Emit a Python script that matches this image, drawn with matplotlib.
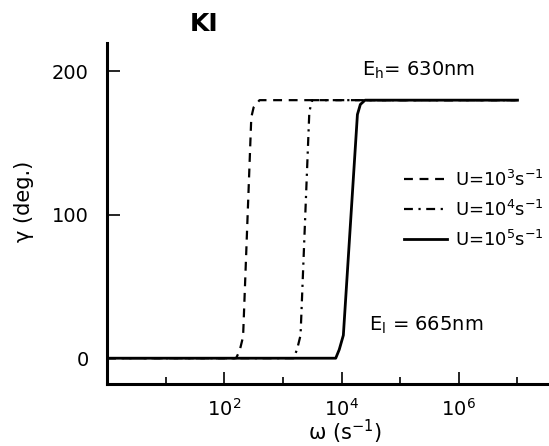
import matplotlib
matplotlib.use("Agg")
import matplotlib.pyplot as plt
from matplotlib.ticker import FixedLocator, NullFormatter

# phase angle (deg) vs angular frequency for three switching rates U
omega_u3 = [1e0, 10**2.20, 10**2.26, 10**2.32, 10**2.46, 10**2.50, 10**2.60, 1e7]
gamma_u3 = [0, 0, 5, 15, 168, 175, 180, 180]

omega_u4 = [1e0, 10**3.18, 10**3.24, 10**3.30, 10**3.45, 10**3.50, 1e7]
gamma_u4 = [0, 0, 6, 16, 172, 180, 180]

omega_u5 = [1e0, 10**3.90, 10**3.96, 10**4.03, 10**4.27, 10**4.32, 10**4.40, 1e7]
gamma_u5 = [0, 0, 6, 16, 170, 177, 180, 180]

labels = [r"U=10$^3$s$^{-1}$", r"U=10$^4$s$^{-1}$", r"U=10$^5$s$^{-1}$"]
major_ticks = [1e2, 1e4, 1e6]
minor_ticks = [1e1, 1e3, 1e5, 1e7]
y_ticks = [0, 100, 200]

plt.rcParams["font.family"] = ["DejaVu Sans"]
plt.rcParams["mathtext.default"] = "regular"

fig = plt.figure(figsize=(5.49, 4.46), dpi=100)
ax = fig.add_axes([0.195, 0.139, 0.801, 0.765])

ax.plot(omega_u3, gamma_u3, color="black", lw=1.6, linestyle=(0, (4, 3)), label=labels[0])
ax.plot(omega_u4, gamma_u4, color="black", lw=1.6, linestyle=(0, (4, 2.5, 1, 2.5)), label=labels[1])
ax.plot(omega_u5, gamma_u5, color="black", lw=2.0, linestyle="-", label=labels[2])

ax.set_xscale("log")
ax.set_xlim(1e0, 10**7.5)
ax.set_ylim(-18, 220)

ax.xaxis.set_major_locator(FixedLocator(major_ticks))
ax.xaxis.set_minor_locator(FixedLocator(minor_ticks))
ax.xaxis.set_minor_formatter(NullFormatter())
ax.set_xticklabels([r"10$^2$", r"10$^4$", r"10$^6$"])
ax.set_yticks(y_ticks)

for side in ("top", "right"):
    ax.spines[side].set_visible(False)
for side in ("left", "bottom"):
    ax.spines[side].set_linewidth(2.2)

ax.tick_params(axis="both", which="major", direction="in", length=9, width=1.2,
               labelsize=14)
ax.tick_params(axis="x", which="major", pad=10)
ax.tick_params(axis="y", which="major", pad=13)
ax.tick_params(axis="x", which="minor", direction="in", length=5, width=1.2)

ax.set_xlabel("ω (s$^{-1}$)", fontsize=15)
ax.xaxis.set_label_coords(0.54, -0.1)
ax.set_ylabel("γ (deg.)", fontsize=15)
ax.yaxis.set_label_coords(-0.165, 0.535)

ax.text(0.22, 1.055, "KI", transform=ax.transAxes, ha="center", va="center",
        fontsize=18, fontweight="bold")
ax.text(10**4.35, 201, r"E$_h$= 630nm", ha="left", va="center", fontsize=14)
ax.text(10**4.47, 23, r"E$_l$ = 665nm", ha="left", va="center", fontsize=14)

ax.legend(loc="upper left", bbox_to_anchor=(0.655, 0.655), frameon=False,
          fontsize=13, handlelength=2.4, handletextpad=0.4, labelspacing=0.55,
          borderpad=0)

fig.savefig("out.png", dpi=100)
